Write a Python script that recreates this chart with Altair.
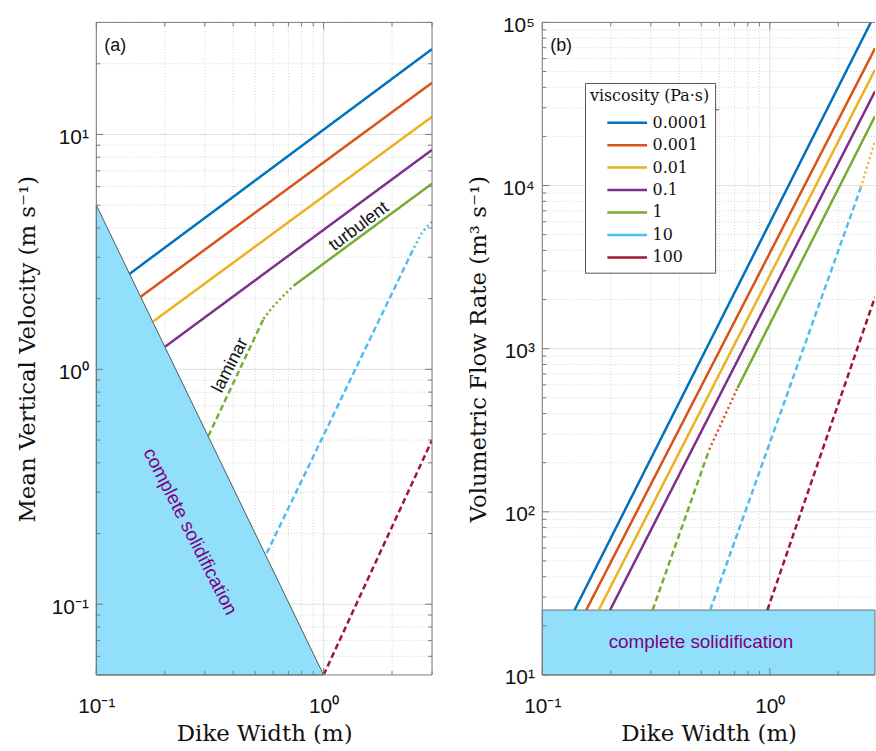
import altair as alt
import pandas as pd

# ---------------- data ----------------
visc_labels = ["0.0001", "0.001", "0.01", "0.1", "1", "10", "100"]
visc_colors = ["#0072BD", "#D95319", "#EDB120", "#7E2F8E", "#77AC30", "#4DBEEE", "#A2142F"]
style_names = ["solid", "dashed", "dotted"]

# panel (a): mean vertical velocity (m/s) vs dike width (m)
a_seg_color = ["0.0001", "0.001", "0.01", "0.1", "1", "1", "1", "10", "10", "100"]
a_seg_style = ["solid", "solid", "solid", "solid", "dashed", "dotted", "solid", "dashed", "dotted", "dashed"]
a_seg_w = [[0.14, 3.0], [0.157, 3.0], [0.178, 3.0], [0.201, 3.0],
           [0.311, 0.544], [0.544, 0.59, 0.64, 0.69, 0.738], [0.738, 3.0],
           [0.562, 2.5], [2.5, 2.7, 2.88, 3.0], [1.0, 3.0]]
a_seg_v = [[2.55, 23.1], [2.04, 16.6], [1.60, 11.9], [1.25, 8.6],
           [0.52, 1.64], [1.64, 1.82, 1.98, 2.13, 2.27], [2.27, 6.18],
           [0.165, 3.3], [3.3, 3.8, 4.1, 4.25], [0.05, 0.5]]
sol_a_w = [0.1, 1.0]
sol_a_top = [5.0, 0.05]
sol_a_bottom = [0.05, 0.05]

# panel (b): volumetric flow rate (m^3/s) vs dike width (m)
b_seg_color = ["0.0001", "0.001", "0.01", "0.1", "1", "0.001", "1", "10", "0.01", "100"]
b_seg_style = ["solid", "solid", "solid", "solid", "dashed", "dotted", "solid", "dashed", "dotted", "dashed"]
b_seg_w = [[0.1386, 2.78], [0.156, 2.9], [0.177, 2.9], [0.1986, 2.9],
           [0.3055, 0.542], [0.542, 0.721], [0.721, 2.9],
           [0.547, 2.51], [2.51, 2.9], [0.976, 2.9]]
b_seg_q = [[25, 1e5], [25, 6.93e4], [25, 5.13e4], [25, 3.78e4],
           [25, 241], [241, 574], [574, 2.66e4],
           [25, 9700], [9700, 18700], [25, 2075]]
sol_b_w = [0.1, 2.9]
sol_b_q = [25, 10]

# axes
a_xdom = [0.1, 3.0]
a_ydom = [0.05, 30.0]
b_xdom = [0.1, 2.9]
b_ydom = [10.0, 1e5]
x_major = [0.1, 1.0]
x_major_labels = ["10\u207b\u00b9", "10\u2070"]
a_x_minor = [0.2, 0.3, 0.4, 0.5, 0.6, 0.7, 0.8, 0.9, 2.0, 3.0]
b_x_minor = [0.2, 0.3, 0.4, 0.5, 0.6, 0.7, 0.8, 0.9, 2.0]
a_y_major = [0.1, 1.0, 10.0]
a_y_major_labels = ["10\u207b\u00b9", "10\u2070", "10\u00b9"]
a_y_minor = [0.06, 0.07, 0.08, 0.09, 0.2, 0.3, 0.4, 0.5, 0.6, 0.7, 0.8, 0.9,
             2, 3, 4, 5, 6, 7, 8, 9, 20, 30]
b_y_major = [10, 100, 1000, 10000, 100000]
b_y_major_labels = ["10\u00b9", "10\u00b2", "10\u00b3", "10\u2074", "10\u2075"]
b_y_minor = [20, 30, 40, 50, 60, 70, 80, 90,
             200, 300, 400, 500, 600, 700, 800, 900,
             2000, 3000, 4000, 5000, 6000, 7000, 8000, 9000,
             20000, 30000, 40000, 50000, 60000, 70000, 80000, 90000]

# annotations (data coordinates)
ann_a_text = ["laminar", "turbulent"]
ann_a_x = [0.389, 1.43]
ann_a_y = [1.04, 4.05]
ann_a_angle = [297, 323]
sol_a_label = ["complete solidification"]
sol_a_label_x = [0.259]
sol_a_label_y = [0.204]
sol_b_label = ["complete solidification"]
sol_b_label_x = [0.498]
sol_b_label_y = [16.0]

# ---------------- styling ----------------
SERIF = "DejaVu Serif"
SANS = "Liberation Sans"
TXT = "#111111"
FRAME = "#7a7a7a"
GRID_MAJOR = "#e0e0e0"
GRID_MINOR = "#d4d4d4"
FILL = "#91DFFB"
PURPLE = "#800080"
H = 657
WA = 338
WB = 335
style_dashes = [[1, 0], [6, 3.5], [2, 3]]
LEG_X = 43
LEG_Y = 61
LEG_W = 135
LEG_SEP = 88


def label_expr(values, labels):
    expr = "''"
    for v, l in zip(values, labels):
        expr = f"abs(datum.value / {v} - 1) < 0.001 ? '{l}' : ({expr})"
    return expr


def seg_frame(colors, styles, ws, vs):
    rows = []
    for s, (c, st, wl, vl) in enumerate(zip(colors, styles, ws, vs)):
        for i, (w, v) in enumerate(zip(wl, vl)):
            rows.append({"seg": s, "visc": c, "style": st, "i": i, "x": w, "y": v})
    return pd.DataFrame(rows)


def panel(W, xdom, ydom, x_minor, y_major, y_major_labels, y_minor, segs, sol_layer,
          extra_text, ytitle, tag, legend, right_side):
    xs = alt.Scale(type="log", domain=xdom, nice=False)
    ys = alt.Scale(type="log", domain=ydom, nice=False)
    x_axis = alt.Axis(values=x_major, labelExpr=label_expr(x_major, x_major_labels),
                      title="Dike Width (m)", titleFont=SERIF, titleFontSize=23,
                      titleFontWeight="normal", titleColor=TXT, labelFont=SANS,
                      labelFontSize=21, labelColor=TXT, labelPadding=21, titlePadding=6,
                      ticks=False, domain=False, grid=False, labelFlush=False,
                      labelOverlap=False)
    y_axis = alt.Axis(values=y_major, labelExpr=label_expr(y_major, y_major_labels),
                      title=ytitle, titleFont=SERIF, titleFontSize=23,
                      titleFontWeight="normal", titleColor=TXT, labelFont=SANS,
                      labelFontSize=21, labelColor=TXT, labelPadding=8, titlePadding=12,
                      labelOffset=3, ticks=False, domain=False, grid=False,
                      labelFlush=False, labelOverlap=False)
    X = lambda: alt.X("x:Q", scale=xs, axis=x_axis)
    Y = lambda: alt.Y("y:Q", scale=ys, axis=y_axis)
    layers = []
    # grid
    layers.append(alt.Chart(pd.DataFrame({"x": x_minor})).mark_rule(
        color=GRID_MINOR, strokeWidth=1, strokeDash=[1, 2]).encode(x=X()))
    layers.append(alt.Chart(pd.DataFrame({"y": y_minor})).mark_rule(
        color=GRID_MINOR, strokeWidth=1, strokeDash=[1, 2]).encode(y=Y()))
    layers.append(alt.Chart(pd.DataFrame({"x": x_major})).mark_rule(
        color=GRID_MAJOR, strokeWidth=1).encode(x=X()))
    layers.append(alt.Chart(pd.DataFrame({"y": y_major})).mark_rule(
        color=GRID_MAJOR, strokeWidth=1).encode(y=Y()))
    # solidification region
    layers.append(sol_layer(X, Y))
    # curves
    layers.append(alt.Chart(segs).mark_line(strokeWidth=2.5, clip=True).encode(
        x=X(),
        y=Y(),
        color=alt.Color("visc:N", scale=alt.Scale(domain=visc_labels, range=visc_colors),
                        legend=legend),
        strokeDash=alt.StrokeDash("style:N", scale=alt.Scale(domain=style_names, range=style_dashes),
                                  legend=None),
        detail="seg:N",
        order="i:Q",
    ))
    layers.extend(extra_text(X, Y))
    one = pd.DataFrame({"d": [0]})
    if legend is not None:
        # separator line under the legend title
        layers.append(alt.Chart(one).mark_rule(color="#555555").encode(
            x=alt.value(LEG_X), x2=alt.value(LEG_X + LEG_W), y=alt.value(LEG_SEP)))
    # panel tag
    layers.append(alt.Chart(pd.DataFrame({"t": [tag]})).mark_text(
        font=SANS, fontSize=18, color=TXT, align="left", baseline="middle").encode(
        text="t:N", x=alt.value(8), y=alt.value(24)))
    # inward ticks
    for vals, L in ((x_major, 7), (x_minor, 4)):
        d = pd.DataFrame({"x": vals})
        layers.append(alt.Chart(d).mark_rule(color=FRAME).encode(x=X(), y=alt.value(H), y2=alt.value(H - L)))
        layers.append(alt.Chart(d).mark_rule(color=FRAME).encode(x=X(), y=alt.value(0), y2=alt.value(L)))
    for vals, L in ((y_major, 7), (y_minor, 4)):
        d = pd.DataFrame({"y": vals})
        layers.append(alt.Chart(d).mark_rule(color=FRAME).encode(y=Y(), x=alt.value(0), x2=alt.value(L)))
        if right_side:
            layers.append(alt.Chart(d).mark_rule(color=FRAME).encode(y=Y(), x=alt.value(W), x2=alt.value(W - L)))
    # frame
    layers.append(alt.Chart(one).mark_rule(color=FRAME).encode(x=alt.value(0), x2=alt.value(W), y=alt.value(0)))
    layers.append(alt.Chart(one).mark_rule(color=FRAME).encode(x=alt.value(0), x2=alt.value(W), y=alt.value(H)))
    layers.append(alt.Chart(one).mark_rule(color=FRAME).encode(x=alt.value(0), y=alt.value(0), y2=alt.value(H)))
    if right_side:
        layers.append(alt.Chart(one).mark_rule(color=FRAME).encode(x=alt.value(W), y=alt.value(0), y2=alt.value(H)))
    return alt.layer(*layers).properties(width=W, height=H)


def sol_a(X, Y):
    d = pd.DataFrame({"x": sol_a_w, "y": sol_a_top, "y2": sol_a_bottom})
    return alt.Chart(d).mark_area(fill=FILL, fillOpacity=1, stroke="#333333", strokeWidth=0.8).encode(
        x=X(), y=Y(), y2="y2:Q")


def sol_b(X, Y):
    d = pd.DataFrame({"x": [sol_b_w[0]], "x2": [sol_b_w[1]], "y": [sol_b_q[0]], "y2": [sol_b_q[1]]})
    return alt.Chart(d).mark_rect(fill=FILL, stroke="#555555", strokeWidth=0.8).encode(
        x=X(), x2="x2:Q", y=Y(), y2="y2:Q")


def text_a(X, Y):
    d = pd.DataFrame({"x": ann_a_x, "y": ann_a_y, "t": ann_a_text, "a": ann_a_angle})
    t1 = alt.Chart(d).mark_text(font=SANS, fontSize=18, color=TXT, align="center", baseline="middle").encode(
        x=X(), y=Y(), text="t:N", angle=alt.Angle("a:Q", scale=None))
    d2 = pd.DataFrame({"x": sol_a_label_x, "y": sol_a_label_y, "t": sol_a_label})
    t2 = alt.Chart(d2).mark_text(font=SANS, fontSize=19, color=PURPLE, align="center",
                                 baseline="middle", angle=63).encode(x=X(), y=Y(), text="t:N")
    return [t1, t2]


def text_b(X, Y):
    d2 = pd.DataFrame({"x": sol_b_label_x, "y": sol_b_label_y, "t": sol_b_label})
    t2 = alt.Chart(d2).mark_text(font=SANS, fontSize=19, color=PURPLE, align="center",
                                 baseline="middle").encode(x=X(), y=Y(), text="t:N")
    return [t2]


legend_b = alt.Legend(
    title="viscosity (Pa\u00b7s)", orient="none", legendX=LEG_X, legendY=LEG_Y,
    titleFont=SERIF, titleFontSize=16, titleFontWeight="normal", titleColor=TXT,
    titleAnchor="middle", titlePadding=9,
    labelFont=SERIF, labelFontSize=16, labelColor=TXT, labelOffset=4,
    symbolType="stroke", symbolSize=1600, symbolStrokeWidth=2.5, symbolOffset=14,
    clipHeight=20, rowPadding=2.6, padding=5,
    strokeColor="#555555", fillColor="white",
)

panel_a = panel(WA, a_xdom, a_ydom, a_x_minor, a_y_major, a_y_major_labels, a_y_minor,
                seg_frame(a_seg_color, a_seg_style, a_seg_w, a_seg_v), sol_a, text_a,
                "Mean Vertical Velocity (m s\u207b\u00b9)", "(a)", None, True)
panel_b = panel(WB, b_xdom, b_ydom, b_x_minor, b_y_major, b_y_major_labels, b_y_minor,
                seg_frame(b_seg_color, b_seg_style, b_seg_w, b_seg_q), sol_b, text_b,
                "Volumetric Flow Rate (m\u00b3 s\u207b\u00b9)", "(b)", legend_b, False)

chart = alt.hconcat(panel_a, panel_b, spacing=34).resolve_scale(
    color="independent", strokeDash="independent"
).properties(
    padding={"left": 16, "top": 12, "right": 0, "bottom": 0},
    background="white",
).configure_view(stroke=None)

chart.save("out.html", embed_options={"renderer": "svg", "actions": False})
